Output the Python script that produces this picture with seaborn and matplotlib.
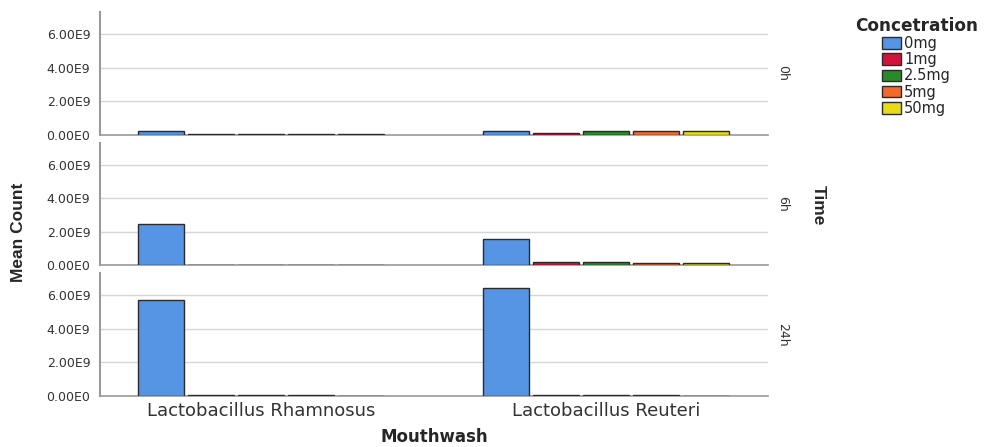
import numpy as np
import pandas as pd
import seaborn as sns
import matplotlib.pyplot as plt
from matplotlib.ticker import FuncFormatter

# data (mean counts)
mouthwash = ["Lactobacillus Rhamnosus", "Lactobacillus Reuteri"]
concentration = ["0mg", "1mg", "2.5mg", "5mg", "50mg"]
times = ["0h", "6h", "24h"]

rhamnosus_0h = [0.20e9, 0.02e9, 0.02e9, 0.015e9, 0.015e9]
reuteri_0h = [0.22e9, 0.13e9, 0.24e9, 0.22e9, 0.22e9]
rhamnosus_6h = [2.47e9, 0.02e9, 0.02e9, 0.015e9, 0.01e9]
reuteri_6h = [1.58e9, 0.20e9, 0.20e9, 0.14e9, 0.13e9]
rhamnosus_24h = [5.74e9, 0.07e9, 0.07e9, 0.05e9, 0.02e9]
reuteri_24h = [6.41e9, 0.08e9, 0.07e9, 0.05e9, 0.02e9]

colors = ["#5595e3", "#d2143c", "#2a8a2a", "#f2692a", "#e8dc18"]

series = {
    "0h": (rhamnosus_0h, reuteri_0h),
    "6h": (rhamnosus_6h, reuteri_6h),
    "24h": (rhamnosus_24h, reuteri_24h),
}

rows = []
for t in times:
    for m, vals in zip(mouthwash, series[t]):
        for c, v in zip(concentration, vals):
            rows.append({"Time": t, "Mouthwash": m, "Concetration": c, "Mean Count": v})
df = pd.DataFrame(rows)

sns.set_style("white")
plt.rcParams["font.family"] = ["DejaVu Sans"]

fig, axes = plt.subplots(3, 1, figsize=(9.86, 4.47), dpi=100, sharex=True, sharey=True)
fig.subplots_adjust(left=0.1014, right=0.779, top=0.973, bottom=0.114, hspace=0.065)

def sci(v, pos):
    if v == 0:
        return "0.00E0"
    e = int(np.floor(np.log10(abs(v))))
    return "%.2fE%d" % (v / 10**e, e)

for ax, t in zip(axes, times):
    sub = df[df.Time == t]
    sns.barplot(data=sub, x="Mouthwash", y="Mean Count", hue="Concetration",
                hue_order=concentration, order=mouthwash, palette=colors,
                saturation=1, width=0.725, gap=0.08, edgecolor="#2b2b2b", linewidth=1,
                errorbar=None, ax=ax, legend=(t == "0h"), zorder=3)
    ax.set_ylim(0, 7.3e9)
    ax.set_xlim(-0.467, 1.47)
    ax.set_yticks([0, 2e9, 4e9, 6e9])
    ax.yaxis.set_major_formatter(FuncFormatter(sci))
    ax.grid(axis="y", color="#d6d6d6", linewidth=1, zorder=0)
    for s in ["top", "right"]:
        ax.spines[s].set_visible(False)
    ax.spines["left"].set_color("#9a9a9a")
    ax.spines["bottom"].set_color("#9a9a9a")
    ax.spines["left"].set_linewidth(1.5)
    ax.spines["bottom"].set_linewidth(1.2)
    ax.tick_params(axis="y", length=0, labelsize=9, colors="#333333", pad=7)
    ax.tick_params(axis="x", length=0)
    ax.set_ylabel("")
    ax.set_xlabel("")
    ax.text(1.012, 0.5, t, transform=ax.transAxes, rotation=270,
            ha="left", va="center", fontsize=9, color="#333333")

axes[-1].tick_params(axis="x", labelsize=13, colors="#333333", pad=4)
axes[-1].set_xlabel("Mouthwash", fontsize=12, fontweight="bold", labelpad=6)

fig.text(0.019, 0.48, "Mean Count", rotation=90, ha="center", va="center",
         fontsize=12.5, fontweight="bold", family=["Liberation Sans Narrow", "Liberation Sans", "DejaVu Sans"])
fig.text(0.83, 0.541, "Time", rotation=270, ha="center", va="center",
         fontsize=12.5, fontweight="bold", family=["Liberation Sans Narrow", "Liberation Sans", "DejaVu Sans"])

leg = axes[0].get_legend()
handles = leg.legend_handles
leg.remove()
fig.legend(handles, concentration, title="Concetration", loc="upper left",
           bbox_to_anchor=(0.857, 0.985), frameon=False, fontsize=10.5,
           title_fontproperties={"weight": "bold", "size": 12.2},
           handlelength=1.25, handleheight=0.85, handletextpad=0.25,
           labelspacing=0.08, borderpad=0.2)

fig.savefig("out.png", dpi=100)
